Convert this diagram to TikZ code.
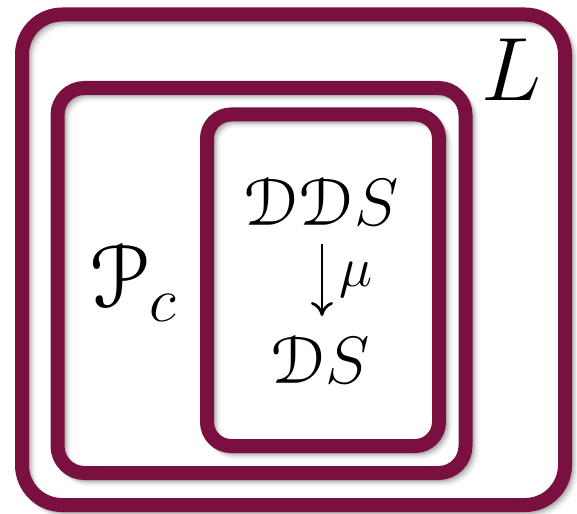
\RequirePackage{fix-cm}
\documentclass[tikz,border=0pt]{standalone}
\usepackage{amsmath}
\usepackage[mathcal]{euscript}
\usetikzlibrary{arrows.meta}
\definecolor{maroon}{RGB}{122,16,64}
\tikzset{
  frame/.style={draw=maroon, line width=14pt},
  shadowline/.style={draw=black, line width=14pt},
  bigmath/.style={inner sep=0pt, text=black},
}
\begin{document}
\begin{tikzpicture}[x=1pt,y=-1pt]
\useasboundingbox (0,0) rectangle (577,513);
% shadows
\foreach \dx/\op/\w in {5/0.05/16, 4/0.07/14, 3/0.10/13, 2/0.12/12}{
  \draw[shadowline, line width=\w pt, opacity=\op, rounded corners=40pt] (22+\dx,14.5+\dx) rectangle (565+\dx,505+\dx);
  \draw[shadowline, line width=\w pt, opacity=\op, rounded corners=27pt] (57.5+\dx,88+\dx) rectangle (465.5+\dx,473+\dx);
  \draw[shadowline, line width=\w pt, opacity=\op, rounded corners=24pt] (207+\dx,114.5+\dx) rectangle (439+\dx,446+\dx);
}
% frames
\draw[frame, rounded corners=40pt] (22,14.5) rectangle (565,505);
\draw[frame, rounded corners=27pt] (57.5,88) rectangle (465.5,473);
\draw[frame, rounded corners=24pt] (207,114.5) rectangle (439,446);
% labels
\node[bigmath] (L) at (511,70) {\fontsize{90}{92}\selectfont $L$};
\node[bigmath] (P) at (133,283) {\fontsize{90}{92}\selectfont $\mathcal{P}_c$};
\node[bigmath] (DDS) at (321,202) {\fontsize{67}{69}\selectfont $\mathcal{D}\mathcal{D}S$};
\node[bigmath] (DS) at (320,360) {\fontsize{67}{69}\selectfont $\mathcal{D}S$};
\draw[line width=2.7pt, -{To[length=14pt,width=22pt]}] (322,244) -- (322,316) node[midway, right=16pt, inner sep=0pt] {\fontsize{56}{58}\selectfont $\mu$};
\end{tikzpicture}
\end{document}
